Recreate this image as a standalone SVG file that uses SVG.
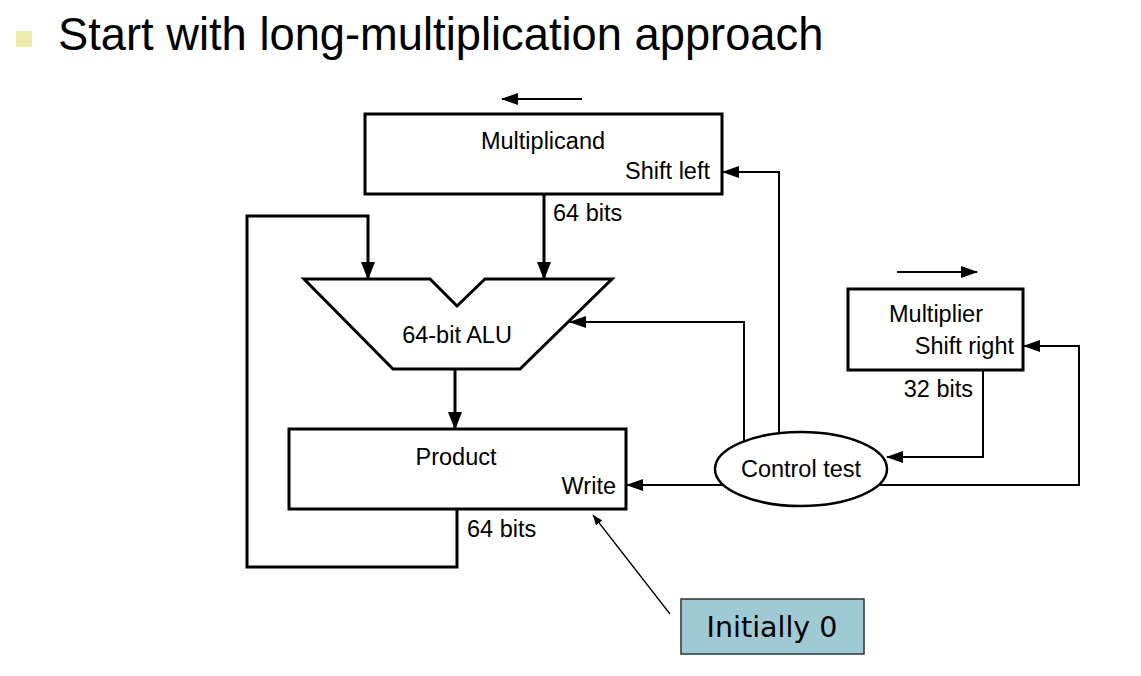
<svg xmlns="http://www.w3.org/2000/svg" width="1141" height="676" viewBox="0 0 1141 676">
<style>
.t{font-family:"Liberation Sans",Arial,Helvetica,sans-serif;font-size:23.5px;fill:#000}
.box{fill:#fff;stroke:#000;stroke-width:3}
.thick{fill:none;stroke:#000;stroke-width:3}
.thin{fill:none;stroke:#000;stroke-width:2}
</style>
<defs>
<marker id="ahb" markerUnits="userSpaceOnUse" markerWidth="18" markerHeight="14" refX="17" refY="7" orient="auto">
<path d="M0,0 L18,7 L0,14 z" fill="#000"/>
</marker>
<marker id="ah" markerUnits="userSpaceOnUse" markerWidth="17" markerHeight="12" refX="16" refY="6" orient="auto">
<path d="M0,0 L17,6 L0,12 z" fill="#000"/>
</marker>
<marker id="ahs" markerUnits="userSpaceOnUse" markerWidth="10" markerHeight="8" refX="10" refY="4" orient="auto">
<path d="M0,0 L10,4 L0,8 z" fill="#000"/>
</marker>
</defs>
<rect x="16" y="31" width="16" height="16" fill="#EEEBB2"/>
<text x="58" y="50" style="font-family:'Liberation Sans',Arial,sans-serif;font-size:45.3px;fill:#000">Start with long-multiplication approach</text>
<g id="connectors">
<path class="thin" d="M582,99 H502" marker-end="url(#ah)"/>
<path class="thin" d="M897,272 H977" marker-end="url(#ah)"/>
<path class="thick" d="M544,195 V279" marker-end="url(#ahb)"/>
<path class="thick" d="M457,510 V567 H247 V216 H368 V279" marker-end="url(#ahb)"/>
<path class="thick" d="M455,369 V429" marker-end="url(#ahb)"/>
<path class="thin" d="M744,449 V322 H570" marker-end="url(#ah)"/>
<path class="thin" d="M779,440 V172 H723" marker-end="url(#ah)"/>
<path class="thin" d="M725,485 H627" marker-end="url(#ah)"/>
<path class="thin" d="M983,370 V457 H887" marker-end="url(#ah)"/>
<path class="thin" d="M878,485 H1079 V346 H1024" marker-end="url(#ah)"/>
<path fill="none" stroke="#000" stroke-width="1.3" d="M670,614 L593,515" marker-end="url(#ahs)"/>
</g>
<g id="multiplicand">
<rect class="box" x="365" y="114" width="357" height="80"/>
<text class="t" x="543" y="149" text-anchor="middle">Multiplicand</text>
<text class="t" x="710" y="179" text-anchor="end">Shift left</text>
</g>
<text class="t" x="553" y="221">64 bits</text>
<g id="alu">
<polygon class="box" points="304,279 430,279 457,306 485,279 612,279 520,369 393,369"/>
<text class="t" x="457" y="343" text-anchor="middle">64-bit ALU</text>
</g>
<g id="product">
<rect class="box" x="289" y="429" width="337" height="80"/>
<text class="t" x="456" y="465" text-anchor="middle">Product</text>
<text class="t" x="616" y="494" text-anchor="end">Write</text>
</g>
<text class="t" x="467" y="537">64 bits</text>
<g id="multiplier">
<rect class="box" x="848" y="289" width="175" height="81"/>
<text class="t" x="936" y="322" text-anchor="middle">Multiplier</text>
<text class="t" x="1014" y="354" text-anchor="end">Shift right</text>
</g>
<text class="t" x="973" y="397" text-anchor="end">32 bits</text>
<g id="control">
<ellipse cx="801" cy="469" rx="86" ry="37" fill="#fff" stroke="#000" stroke-width="2.5"/>
<text class="t" x="801" y="477" text-anchor="middle">Control test</text>
</g>
<g id="initially">
<rect x="681" y="599" width="183" height="55" fill="#A0CAD3" stroke="#333" stroke-width="1.5"/>
<text x="772" y="637" text-anchor="middle" style="font-family:'DejaVu Sans',Verdana,sans-serif;font-size:28.5px;fill:#000">Initially 0</text>
</g>
</svg>
